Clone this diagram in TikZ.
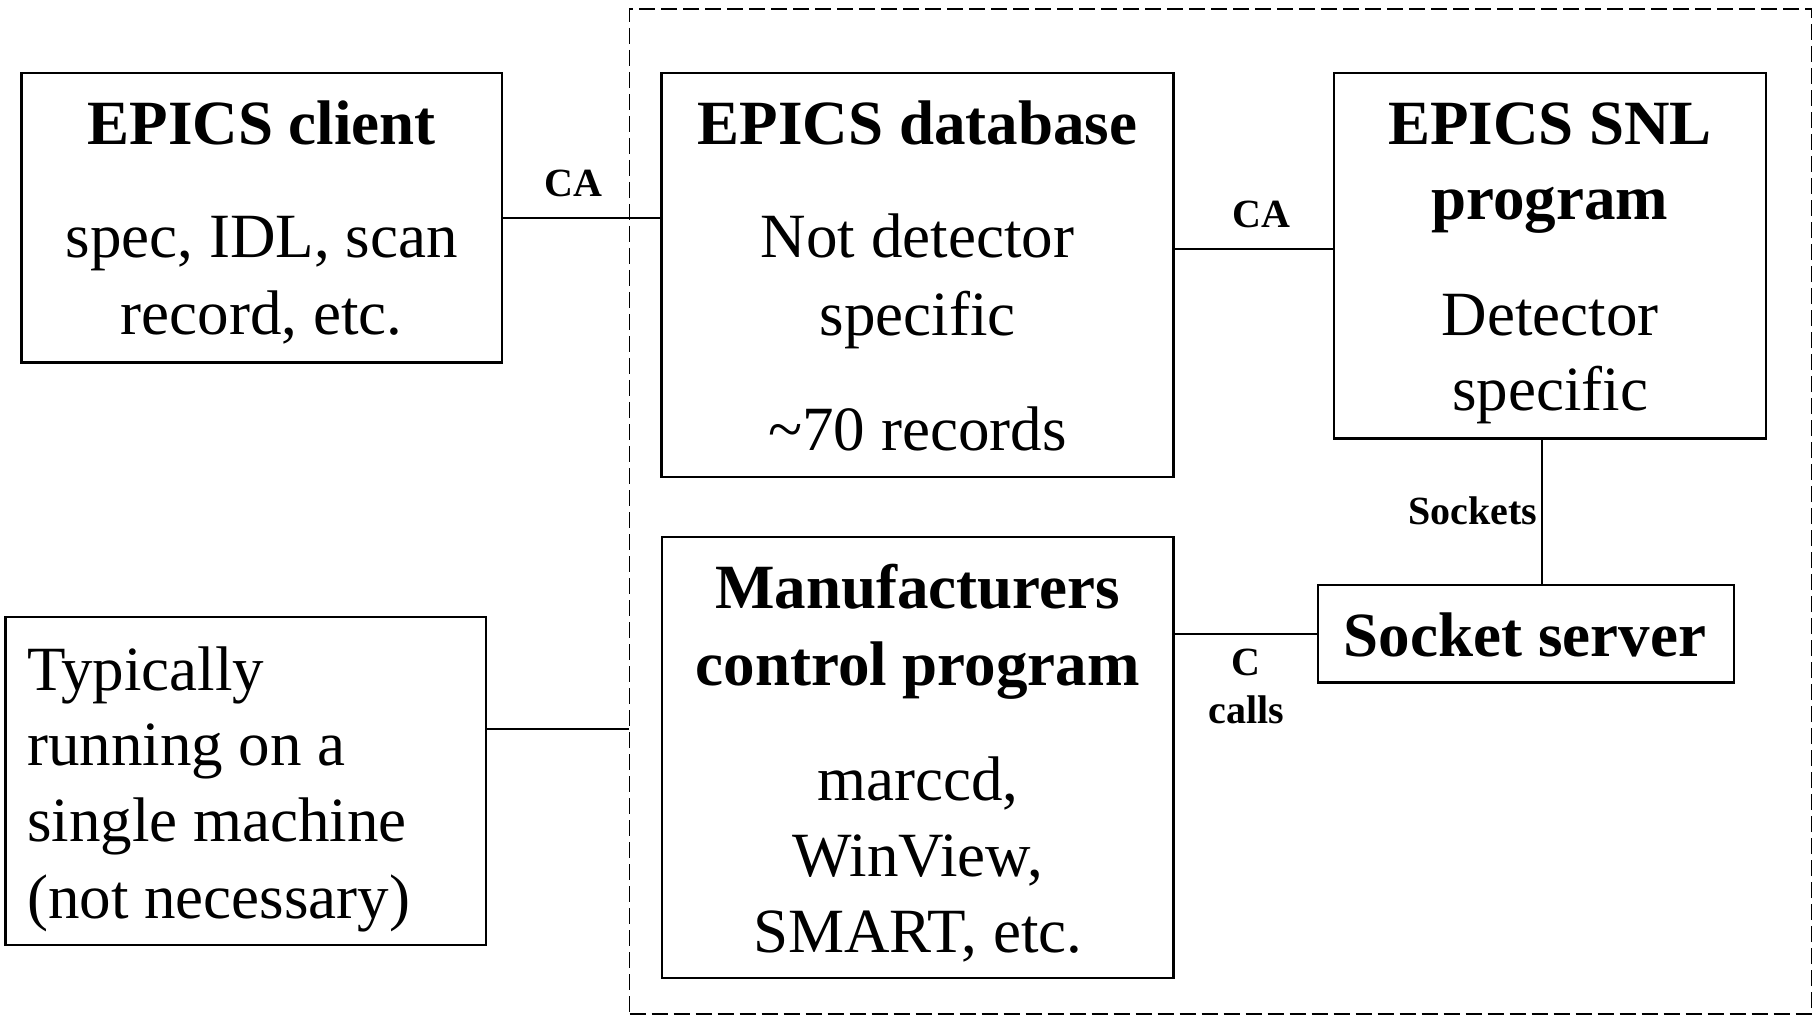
\documentclass[tikz,border=0pt]{standalone}
\usepackage{fontspec}
\setmainfont{Liberation Serif}
\usetikzlibrary{fit}
\begin{document}
\begin{tikzpicture}[x=0.5pt,y=-0.5pt,
 box/.style={draw, line width=1.2pt, inner sep=0pt},
 grpbox/.style={draw, dash pattern=on 8pt off 3pt, line width=0.7pt, inner sep=0pt},
 big/.style={font=\fontsize{31.5}{38}\selectfont\bfseries, anchor=base, inner sep=0pt},
 txt/.style={font=\fontsize{31.5}{38}\selectfont, anchor=base, inner sep=0pt},
 ltxt/.style={font=\fontsize{31.5}{38}\selectfont, anchor=base west, inner sep=0pt},
 lbl/.style={font=\fontsize{20}{24}\selectfont\bfseries, anchor=base, inner sep=0pt},
 conn/.style={line width=1pt}]
\useasboundingbox (0,0) rectangle (1820,1016);

% boxes
\node[grpbox, fit={(629.5,9) (1811.5,1014)}] (grp) {};
\node[box, fit={(21.5,73) (502,362.5)}] (client) {};
\node[box, fit={(661.5,73) (1173.5,477)}] (db) {};
\node[box, fit={(1334,73) (1766,438.5)}] (snl) {};
\node[box, fit={(1318,585) (1734,682.5)}] (sock) {};
\node[box, fit={(662,536.7) (1173.5,978)}] (mfr) {};
\node[box, fit={(5.5,616.7) (485.7,945)}] (typ) {};

% texts
\node[big] (t1) at (261.75,145) {EPICS client};
\node[txt] (t2) at (261.75,258) {spec, IDL, scan};
\node[txt] (t3) at (261.75,335) {record, etc.};

\node[big] (t4) at (917.5,144.6) {EPICS database};
\node[txt] (t5) at (917.5,258) {Not detector};
\node[txt] (t6) at (917.5,335.7) {specific};
\node[txt] (t7) at (917.5,450) {\textasciitilde 70 records};

\node[big] (t8) at (1550,144.6) {EPICS SNL};
\node[big] (t9) at (1550,219.6) {program};
\node[txt] (t10) at (1550,335.7) {Detector};
\node[txt] (t11) at (1550,410.7) {specific};

\node[big] (t12) at (917.75,608) {Manufacturers};
\node[big] (t13) at (917.75,685) {control program};
\node[txt] (t14) at (917.75,800) {marccd,};
\node[txt] (t15) at (917.75,876.7) {WinView,};
\node[txt] (t16) at (917.75,952) {SMART, etc.};

\node[big] (t17) at (1525,656.7) {Socket server};

\node[ltxt] (t18) at (26.8,690) {Typically};
\node[ltxt] (t19) at (26.8,765) {running on a};
\node[ltxt] (t20) at (26.8,841.7) {single machine};
\node[ltxt] (t21) at (26.8,918) {(not necessary)};

% connectors
\coordinate (ya) at (0,249);
\coordinate (xa) at (1541.6,0);
\coordinate (yb) at (0,729);
\draw[conn] (client.east) -- (client.east -| db.west);
\draw[conn] (db.east |- ya) -- (snl.west |- ya);
\draw[conn] (snl.south -| xa) -- (sock.north -| xa);
\draw[conn] (sock.west) -- (sock.west -| mfr.east);
\draw[conn] (typ.east |- yb) -- (grp.west |- yb);

% labels
\node[lbl] (l1) at (573.6,196.7) {CA};
\node[lbl] (l2) at (1261,228) {CA};
\node[lbl, anchor=base east] (l3) at (1537.7,524) {Sockets};
\node[lbl] (l4) at (1246,675) {C};
\node[lbl] (l5) at (1246,723) {calls};
\end{tikzpicture}
\end{document}
